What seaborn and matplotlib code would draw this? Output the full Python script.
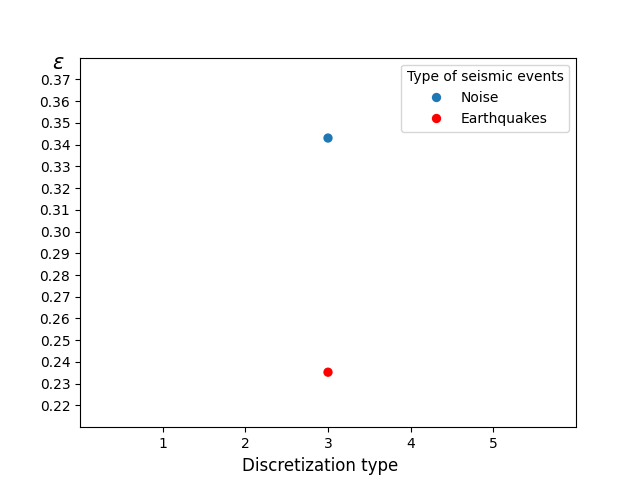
import matplotlib
matplotlib.use("Agg")
import matplotlib.pyplot as plt
import seaborn as sns
import pandas as pd
import numpy as np

discretization = [3, 3]
epsilon = [0.343, 0.2353]
event_type = ["Noise", "Earthquakes"]
colors = {"Noise": "#1f77b4", "Earthquakes": "red"}
yticks = [round(0.22 + 0.01 * i, 2) for i in range(16)]
xticks = [1, 2, 3, 4, 5]

df = pd.DataFrame({"Discretization type": discretization,
                   "eps": epsilon,
                   "Type of seismic events": event_type})

fig, ax = plt.subplots(figsize=(6.4, 4.8), dpi=100)
sns.scatterplot(data=df, x="Discretization type", y="eps",
                hue="Type of seismic events", palette=colors,
                s=45, linewidth=0, ax=ax, zorder=3)
ax.set_xlim(0, 6)
ax.set_ylim(0.21, 0.38)
ax.set_xticks(xticks)
ax.set_yticks(yticks)
ax.set_yticklabels([f"{v:.2f}" for v in yticks])
ax.set_xlabel("Discretization type", fontsize=12)
ax.xaxis.set_label_coords(0.4835, -0.08)
ax.set_ylabel("")
ax.text(-0.0444, 0.9867, r"$\varepsilon$", fontsize=15, ha="center", va="center",
        transform=ax.transAxes)
leg = ax.legend(title="Type of seismic events", loc="upper right")
fig.savefig("out.png", dpi=100)
